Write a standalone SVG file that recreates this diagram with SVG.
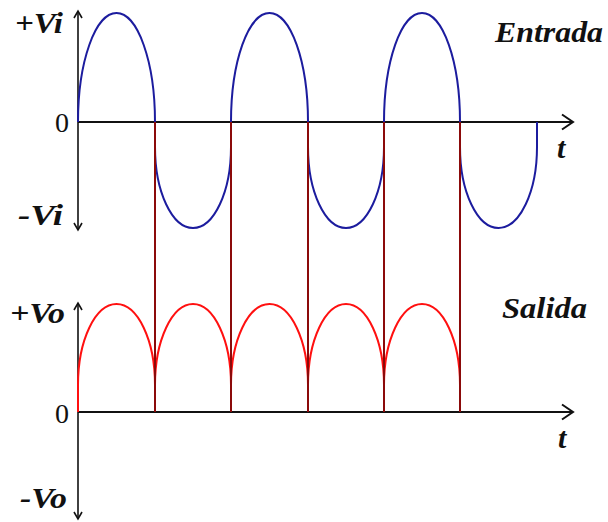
<svg xmlns="http://www.w3.org/2000/svg" width="608" height="522" viewBox="0 0 608 522">
  <style>
    .axis { stroke: #111; fill: none; }
    .hax { stroke-width: 2; marker-end: url(#harrow); }
    .vax { stroke-width: 1.6; marker-start: url(#varrow); marker-end: url(#varrow); }
    .vin { stroke: #1c1c9e; stroke-width: 2; fill: none; }
    .vout { stroke: #ff1010; stroke-width: 2; fill: none; }
    .link { stroke: #8b0a0a; stroke-width: 2; fill: none; }
    .lbl { font-family: "Liberation Serif", "Times New Roman", serif; font-weight: bold; font-style: italic; font-size: 30px; fill: #111; }
    .zero { font-family: "Liberation Serif", "Times New Roman", serif; font-size: 28px; fill: #111; }
  </style>
  <defs>
    <marker id="harrow" markerUnits="userSpaceOnUse" markerWidth="16" markerHeight="18" refX="12" refY="8" orient="auto" overflow="visible">
      <path d="M1,0.5 L12,8 L1,15.5" fill="none" stroke="#111" stroke-width="2"/>
    </marker>
    <marker id="varrow" markerUnits="userSpaceOnUse" markerWidth="12" markerHeight="12" refX="8" refY="5" orient="auto-start-reverse" overflow="visible">
      <path d="M1,1 L8,5 L1,9" fill="none" stroke="#111" stroke-width="1.6"/>
    </marker>
  </defs>

  <g id="input-axes">
    <line class="axis vax" x1="78" y1="11" x2="78" y2="230"/>
    <line class="axis hax" x1="78" y1="122" x2="573" y2="122"/>
  </g>
  <g id="output-axes">
    <line class="axis vax" x1="78" y1="303" x2="78" y2="519"/>
    <line class="axis hax" x1="78" y1="412" x2="573" y2="412"/>
  </g>

  <g id="input-wave">
    <path class="vin" d="M78,122 A38.5,109 0 0 1 155,122"/>
    <path class="vin" d="M231,122 A38.5,109 0 0 1 308,122"/>
    <path class="vin" d="M384,122 A38,109 0 0 1 460,122"/>
    <path class="vin" d="M155,147 A38,81 0 0 0 231,147"/>
    <path class="vin" d="M308,147 A38,81 0 0 0 384,147"/>
    <path class="vin" d="M460,147 A38.5,81 0 0 0 537,147 L537,122"/>
  </g>

  <g id="output-wave">
    <path class="vout" d="M78,412 L78,385 A38.5,81 0 0 1 155,385"/>
    <path class="vout" d="M155,385 A38,81 0 0 1 231,385"/>
    <path class="vout" d="M231,385 A38.5,81 0 0 1 308,385"/>
    <path class="vout" d="M308,385 A38,81 0 0 1 384,385"/>
    <path class="vout" d="M384,385 A38,81 0 0 1 460,385"/>
  </g>

  <g id="connectors">
    <line class="link" x1="155" y1="122" x2="155" y2="412"/>
    <line class="link" x1="231" y1="122" x2="231" y2="412"/>
    <line class="link" x1="308" y1="122" x2="308" y2="412"/>
    <line class="link" x1="384" y1="122" x2="384" y2="412"/>
    <line class="link" x1="460" y1="122" x2="460" y2="412"/>
  </g>

  <g id="labels">
    <text class="lbl" x="15" y="33" textLength="48" lengthAdjust="spacingAndGlyphs">+Vi</text>
    <text class="zero" x="55" y="132">0</text>
    <text class="lbl" x="18" y="225" textLength="45" lengthAdjust="spacingAndGlyphs">-Vi</text>
    <text class="lbl" x="495" y="42" textLength="108" lengthAdjust="spacingAndGlyphs">Entrada</text>
    <text class="lbl" x="557" y="158">t</text>
    <text class="lbl" x="10" y="323" textLength="55" lengthAdjust="spacingAndGlyphs">+Vo</text>
    <text class="zero" x="55" y="423">0</text>
    <text class="lbl" x="20" y="508" textLength="47" lengthAdjust="spacingAndGlyphs">-Vo</text>
    <text class="lbl" x="502" y="318" textLength="85" lengthAdjust="spacingAndGlyphs">Salida</text>
    <text class="lbl" x="558" y="448">t</text>
  </g>
</svg>
